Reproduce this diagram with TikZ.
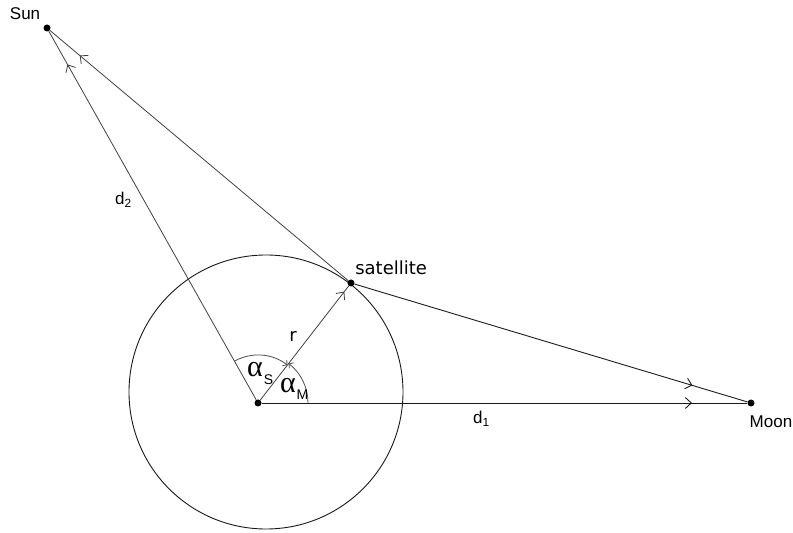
\documentclass[tikz,border=0pt]{standalone}
\usepackage{fontspec}
\setsansfont{Liberation Sans}
\newfontfamily\satfont{DejaVu Sans}
\newfontfamily\greekfont{Liberation Serif}
\usetikzlibrary{arrows.meta,calc,positioning,decorations.markings}

\begin{document}
\begin{tikzpicture}[
  x=1pt, y=1pt,
  font=\sffamily,
  >={Straight Barb[length=6pt,width=11pt]},
  dot/.style={circle, fill=black, inner sep=0pt, minimum size=7pt},
  conn/.style={draw=black!90, line width=0.9pt},
  thinconn/.style={draw=black!75, line width=0.8pt},
  arrowat/.style={postaction={decorate},
    decoration={markings, mark=at position #1 with {\arrow{>}}}},
  anglearc/.style={draw=black!70, line width=0.8pt, -{Straight Barb[length=3pt,width=7pt]}},
  lab/.style={font=\sffamily\fontsize{17}{20}\selectfont, inner sep=0pt},
  satlab/.style={font=\satfont\fontsize{18}{20}\selectfont, inner sep=0pt},
  anglab/.style={font=\greekfont\fontsize{30}{32}\selectfont, inner sep=0pt},
  sublab/.style={font=\sffamily\fontsize{14}{16}\selectfont, inner sep=0pt}
]
\path[use as bounding box] (0,0) rectangle (793,533);

\coordinate (orbit) at (266,141);
\draw[conn] (orbit) circle[radius=137pt];

\node[dot] (earth) at (258,130) {};
\node[dot] (sun) at (47,505) {};
\node[dot] (moon) at (751,130) {};
\node[dot] (sat) at (351,250) {};

\draw[thinconn, arrowat=0.91] (earth) -- (sun);
\draw[thinconn, arrowat=0.90] (sat) -- (sun);
\draw[conn, arrowat=0.886] (earth) -- (moon);
\draw[conn, arrowat=0.86] (sat) -- (moon);
\draw[thinconn, arrowat=0.95] (earth) -- (sat);

\draw[anglearc] ([shift={(119.4:48pt)}]earth.center) arc[start angle=119.4, end angle=52.2, radius=48pt];
\draw[anglearc] ([shift={(0:50pt)}]earth.center) arc[start angle=0, end angle=52.2, radius=50pt];

\node[lab, above left=6pt and 4pt of sun] (sunlab) {Sun};
\node[lab, below=8.5pt of moon, xshift=20pt] (moonlab) {Moon};
\node[satlab, above right=5.5pt and 1.5pt of sat] (satlab) {satellite};
\node[lab, font=\satfont\fontsize{18}{20}\selectfont] (rlab) at (293,197) {r};
\node[lab, anchor=base west] (dtwo) at (115,328) {d\textsubscript{2}};
\node[lab, anchor=base west] (done) at (473,109) {d\textsubscript{1}};

\node[anglab] (alphaS) at (255,163) {α};
\node[sublab] (subS) at (268.5,153) {S};
\node[anglab] (alphaM) at (288,147) {α};
\node[sublab] (subM) at (302.5,138) {M};
\end{tikzpicture}
\end{document}
